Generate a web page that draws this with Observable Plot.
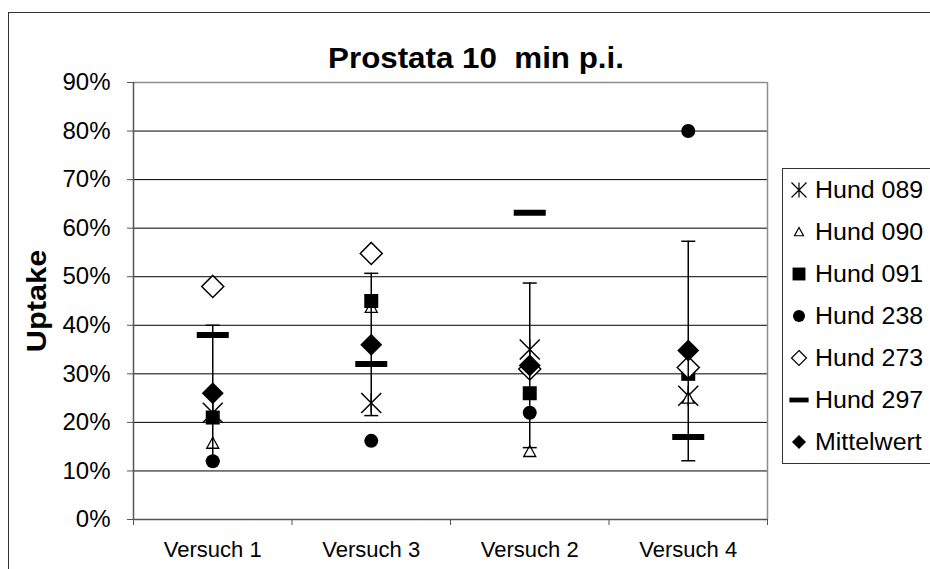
<!DOCTYPE html>
<html><head><meta charset="utf-8">
<script src="https://cdn.jsdelivr.net/npm/d3@7"></script>
<script src="https://cdn.jsdelivr.net/npm/@observablehq/plot@0.6"></script>
<style>
body{margin:0;background:#fff;overflow:hidden;}
#wrap{position:relative;width:930px;height:569px;overflow:hidden;font-family:"Liberation Sans",Arial,sans-serif;background:#fff;}
#frame{position:absolute;left:8px;top:12px;width:940px;height:600px;border:1.5px solid #333;box-sizing:border-box;}
#chart{position:absolute;left:0;top:0;}
#title{position:absolute;left:476px;top:44px;font-weight:bold;font-size:29px;line-height:29px;white-space:nowrap;transform:translateX(-50%) scaleX(1.08);}
#ylabel{position:absolute;left:37px;top:301px;font-weight:bold;font-size:28px;line-height:28px;white-space:nowrap;transform:translate(-50%,-50%) rotate(-90deg) scaleX(1.1);}
#legend{position:absolute;left:782px;top:168px;width:150px;height:296px;border:1.5px solid #333;box-sizing:border-box;background:#fff;}
.row{position:absolute;left:0;height:42px;width:150px;}
.row svg{position:absolute;left:4px;top:9px;}
.row span{position:absolute;left:32px;top:8px;font-size:23px;line-height:26px;white-space:nowrap;transform-origin:left center;transform:scaleX(1.085);}
</style></head>
<body><div id="wrap"><div id="frame"></div><div id="chart"></div>
<div id="title">Prostata 10&nbsp; min p.i.</div>
<div id="ylabel">Uptake</div>
<div id="legend"></div></div>
<script>
// ---- data ----
const categories = ["Versuch 1", "Versuch 3", "Versuch 2", "Versuch 4"];
const seriesNames = ["Hund 089", "Hund 090", "Hund 091", "Hund 238", "Hund 273", "Hund 297", "Mittelwert"];
const hund089 = [0.22, 0.24, 0.35, 0.255];
const hund090 = [0.157, 0.437, 0.14, 0.25];
const hund091 = [0.21, 0.45, 0.26, 0.30];
const hund238 = [0.12, 0.162, 0.22, 0.80];
const hund273 = [0.48, 0.548, 0.31, 0.313];
const hund297 = [0.38, 0.32, 0.632, 0.17];
const mittelwert = [0.26, 0.36, 0.317, 0.348];
const fehlerOben = [0.40, 0.507, 0.487, 0.573];
const fehlerUnten = [0.12, 0.214, 0.148, 0.121];
const yTicks = [0, 0.1, 0.2, 0.3, 0.4, 0.5, 0.6, 0.7, 0.8, 0.9];
const gridTicks = [0.1, 0.2, 0.3, 0.4, 0.5, 0.6, 0.7, 0.8];
const catBounds = [0, 1, 2, 3, 4];
const catCenters = [0.5, 1.5, 2.5, 3.5];

// ---- marker shapes ----
function shape(kind, k = 1) {
  return {draw(c) {
    if (kind === "star") { const r = 10 * k; c.moveTo(-r, -r); c.lineTo(r, r); c.moveTo(-r, r); c.lineTo(r, -r); c.moveTo(0, -r); c.lineTo(0, r); }
    else if (kind === "tri") { c.moveTo(0, -6 * k); c.lineTo(6 * k, 5 * k); c.lineTo(-6 * k, 5 * k); c.closePath(); }
    else if (kind === "square") { c.rect(-7 * k, -7 * k, 14 * k, 14 * k); }
    else if (kind === "circle") { c.moveTo(7 * k, 0); c.arc(0, 0, 7 * k, 0, 2 * Math.PI); }
    else if (kind === "diamond") { const r = 11 * k; c.moveTo(0, -r); c.lineTo(r, 0); c.lineTo(0, r); c.lineTo(-r, 0); c.closePath(); }
    else if (kind === "dash") { c.rect(-16 * k, -3 * Math.max(k, 0.8), 32 * k, 6 * Math.max(k, 0.8)); }
    else if (kind === "cap") { c.moveTo(-7 * k, 0); c.lineTo(7 * k, 0); }
  }};
}
const styles = [
  {kind: "star", fill: "none", stroke: "black", strokeWidth: 1.5, lk: 0.75},
  {kind: "tri", fill: "white", stroke: "black", strokeWidth: 1.3, lk: 0.75},
  {kind: "square", fill: "black", stroke: "none", strokeWidth: 0, lk: 0.92},
  {kind: "circle", fill: "black", stroke: "none", strokeWidth: 0, lk: 0.86},
  {kind: "diamond", fill: "white", stroke: "black", strokeWidth: 1.5, lk: 0.68},
  {kind: "dash", fill: "black", stroke: "none", strokeWidth: 0, lk: 0.6},
  {kind: "diamond", fill: "black", stroke: "none", strokeWidth: 0, lk: 0.64}
];
const seriesValues = [hund089, hund090, hund091, hund238, hund273, hund297, mittelwert];

const dotMark = (vals, s) => Plot.dot(vals, {x: (d, i) => catCenters[i], y: d => d, r: 5, symbol: shape(s.kind), fill: s.fill, stroke: s.stroke, strokeWidth: s.strokeWidth});

const marks = [
  Plot.ruleY(gridTicks, {stroke: "black", strokeWidth: 1}),
  Plot.ruleY([0.9], {stroke: "#8c8c8c", strokeWidth: 1.5}),
  Plot.ruleX([4], {stroke: "#8c8c8c", strokeWidth: 1.5}),
  Plot.ruleY([0], {stroke: "#555", strokeWidth: 1.5}),
  Plot.ruleX([0], {stroke: "#555", strokeWidth: 1.5}),
  Plot.axisY({ticks: yTicks, tickFormat: d3.format(".0%"), tickSize: 6, tickPadding: 17, stroke: "#555", fontSize: 24, label: null}),
  Plot.axisX({ticks: catBounds, tickFormat: () => "", tickSize: 6, stroke: "#555", label: null}),
  Plot.axisX({ticks: catCenters, tickFormat: d => categories[Math.floor(d)], tickSize: 0, tickPadding: 22, fontSize: 22, label: null})
];
for (let s = 0; s < 6; s++) marks.push(dotMark(seriesValues[s], styles[s]));
marks.push(Plot.ruleX(mittelwert, {x: (d, i) => catCenters[i], y1: (d, i) => fehlerUnten[i], y2: (d, i) => fehlerOben[i], stroke: "black", strokeWidth: 1.5}));
marks.push(Plot.dot(fehlerOben, {x: (d, i) => catCenters[i], y: d => d, r: 5, symbol: shape("cap"), fill: "none", stroke: "black", strokeWidth: 1.5}));
marks.push(Plot.dot(fehlerUnten, {x: (d, i) => catCenters[i], y: d => d, r: 5, symbol: shape("cap"), fill: "none", stroke: "black", strokeWidth: 1.5}));
marks.push(dotMark(mittelwert, styles[6]));

const plot = Plot.plot({
  width: 930, height: 569,
  marginLeft: 133, marginRight: 163, marginTop: 82, marginBottom: 50,
  x: {domain: [0, 4]},
  y: {domain: [0, 0.9]},
  style: {fontFamily: "'Liberation Sans', Arial, sans-serif", fontSize: "22px", color: "black", background: "transparent", overflow: "visible"},
  marks
});
document.getElementById("chart").appendChild(plot);

// ---- legend ----
const legend = d3.select("#legend");
seriesNames.forEach((name, i) => {
  const s = styles[i];
  const row = legend.append("div").attr("class", "row").style("top", (i * 42) + "px");
  const p = d3.path();
  shape(s.kind, s.lk).draw(p);
  row.append("svg").attr("width", 24).attr("height", 24)
    .append("path").attr("transform", "translate(12,12)").attr("d", p.toString())
    .attr("fill", s.fill).attr("stroke", s.stroke).attr("stroke-width", s.strokeWidth ? 1.2 : 0);
  row.append("span").text(name);
});
</script></body></html>
